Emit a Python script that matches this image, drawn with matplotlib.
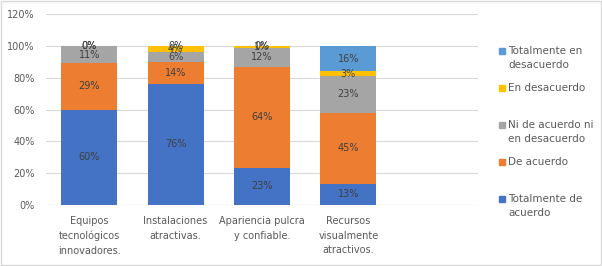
import matplotlib.pyplot as plt
from matplotlib.patches import Rectangle
import numpy as np

categories = ["Equipos\ntecnológicos\ninnovadores.", "Instalaciones\natractivas.",
              "Apariencia pulcra\ny confiable.", "Recursos\nvisualmente\natractivos."]
tot_acuerdo = [60, 76, 23, 13]
de_acuerdo = [29, 14, 64, 45]
ni_ni = [11, 6, 12, 23]
en_desacuerdo = [0, 4, 1, 3]
tot_desacuerdo = [0, 0, 0, 16]

series = [
    ("Totalmente de\nacuerdo", tot_acuerdo, "#4472C4"),
    ("De acuerdo", de_acuerdo, "#ED7D31"),
    ("Ni de acuerdo ni\nen desacuerdo", ni_ni, "#A5A5A5"),
    ("En desacuerdo", en_desacuerdo, "#FFC000"),
    ("Totalmente en\ndesacuerdo", tot_desacuerdo, "#5B9BD5"),
]

txt = "#595959"
plt.rcParams['font.family'] = ['DejaVu Sans']

fig = plt.figure(figsize=(6.02, 2.66), dpi=100)
fig.patches.append(Rectangle((0.001, 0.002), 0.997, 0.995, transform=fig.transFigure,
                             fill=False, edgecolor="#D9D9D9", linewidth=1))
ax = fig.add_axes([46 / 602, (266 - 204.7) / 266, (478 - 46) / 602, (204.7 - 14.3) / 266])

x = np.arange(len(categories))
bottom = np.zeros(len(categories))
for name, vals, color in series:
    vals = np.array(vals, dtype=float)
    ax.bar(x, vals, 0.65, bottom=bottom, color=color, zorder=2)
    for xi, b, v in zip(x, bottom, vals):
        ax.text(xi, b + v / 2, f"{int(v)}%", ha="center", va="center",
                fontsize=7, color="#404040", zorder=3)
    bottom += vals

ax.set_xlim(-0.5, 4.5)
ax.set_ylim(0, 120)
ax.set_yticks(range(0, 121, 20))
ax.set_yticklabels([f"{v}%" for v in range(0, 121, 20)], fontsize=7, color=txt)
ax.set_xticks(x)
ax.set_xticklabels(categories, fontsize=7, color=txt, linespacing=1.6)
ax.tick_params(axis="x", length=0, pad=8)
ax.tick_params(axis="y", length=0, pad=8)
ax.yaxis.grid(True, color="#D9D9D9", linewidth=0.8, zorder=0)
for s in ax.spines.values():
    s.set_visible(False)
ax.axhline(0, color="#D9D9D9", linewidth=0.8, zorder=1)

# legend, top entry first
leg_y = [58, 88, 132, 162, 206]
for (name, vals, color), yp in zip(series[::-1], leg_y):
    top = yp - 7 if "\n" in name else yp
    fig.patches.append(Rectangle((499 / 602, 1 - (top + 3) / 266), 6 / 602, 6 / 266,
                                 transform=fig.transFigure, color=color))
    fig.text(508 / 602, 1 - yp / 266, name, fontsize=7.5, color=txt,
             va="center", ha="left", linespacing=1.5)

fig.savefig("out.png", dpi=100)
